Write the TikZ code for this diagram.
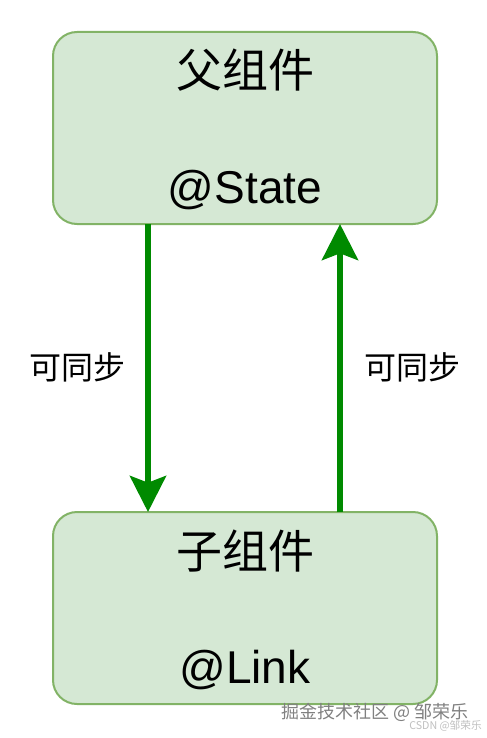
\documentclass[tikz,border=0pt]{standalone}
\usepackage{fontspec}
\setmainfont{Liberation Sans}
\newfontfamily\cjk{Noto Sans CJK SC}
\usetikzlibrary{calc,arrows.meta}
\definecolor{boxfill}{HTML}{D5E8D4}
\definecolor{boxline}{HTML}{82B366}
\definecolor{syncgreen}{HTML}{008A00}
\tikzset{
	compbox/.style={draw=boxline, fill=boxfill, line width=1.5pt, rounded corners=18pt, minimum width=288pt, minimum height=144pt, inner sep=0pt, outer sep=0pt},
	titletext/.style={font=\fontsize{34.5pt}{40pt}\selectfont, inner sep=0pt},
	labeltext/.style={font=\cjk\fontsize{24pt}{28pt}\selectfont, inner sep=0pt},
	synclink/.style={draw=syncgreen, line width=4.5pt, -{Stealth[length=27pt, width=27pt, inset=5pt]}},
	marktext/.style={inner sep=0pt, anchor=east},
}

\begin{document}
\begin{tikzpicture}[x=0.75pt, y=-0.75pt]
			%%%%% START %%%%%
			
			\useasboundingbox (0, 0) rectangle (486, 738);
			
			\node[compbox] (parent) at (245, 128) {};
			\node[titletext] (parentName) at (245, 70) {\cjk 父组件};
			\node[titletext, anchor=base] (parentState) at (245, 203) {@State};
			
			\node[compbox] (child) at (245, 608) {};
			\node[titletext] (childName) at (245, 551) {\cjk 子组件};
			\node[titletext, anchor=base] (childLink) at (245, 683) {@Link};
			
			\draw[synclink] ($(parent.south west)+(95, 0)$) -- ($(child.north west)+(95, 0)$);
			\draw[synclink] ($(child.north west)+(287, 0)$) -- ($(parent.south west)+(287, 0)$);
			
			\node[labeltext] (downLabel) at (77, 367) {可同步};
			\node[labeltext] (upLabel) at (412, 367) {可同步};
			
			\node[marktext, text=black!50, font=\cjk\fontsize{13.5pt}{16pt}\selectfont] (markJuejin) at (469, 712) {掘金技术社区 @ 邹荣乐};
			\node[marktext, text=black!25, font=\cjk\fontsize{8pt}{10pt}\selectfont] (markCsdn) at (482, 726) {CSDN @邹荣乐};
			
			%%%%% END %%%%%
\end{tikzpicture}
\end{document}
